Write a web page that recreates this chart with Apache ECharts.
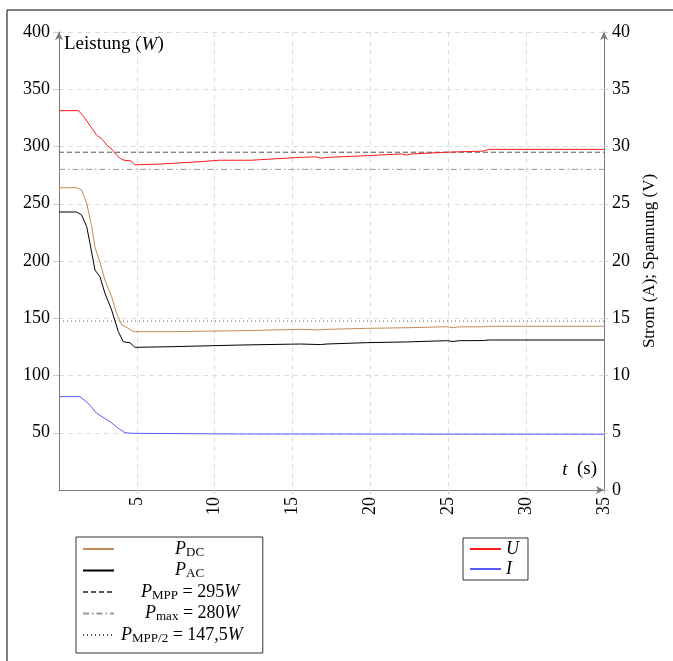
<!DOCTYPE html>
<html><head><meta charset="utf-8">
<script src="https://cdn.jsdelivr.net/npm/echarts@6/dist/echarts.min.js"></script>
<style>html,body{margin:0;padding:0;background:#fff}#c{width:673px;height:661px}</style>
</head><body><div id="c"></div>
<script>
// ---- data ----
const xTicks = [0, 5, 10, 15, 20, 25, 30, 35];
const tU = [0, 1.25, 1.6, 2.0, 2.42, 2.8, 3.06, 3.4, 3.7, 3.95, 4.17, 4.56, 4.75, 4.88, 6.5, 9.06, 10.3, 12.3, 15.5, 16.5, 16.8, 17.2, 19.8, 22.0, 22.3, 22.6, 24.9, 27.25, 27.6, 35];
const vU = [33.13, 33.13, 32.6, 31.8, 31.0, 30.6, 30.13, 29.75, 29.25, 28.95, 28.8, 28.76, 28.6, 28.4, 28.47, 28.67, 28.8, 28.8, 29.05, 29.1, 28.97, 29.05, 29.2, 29.35, 29.25, 29.35, 29.5, 29.6, 29.75, 29.75];
const tDC = [0, 1.13, 1.45, 1.78, 2.1, 2.31, 2.63, 2.95, 3.38, 3.7, 4.03, 4.35, 4.77, 7.34, 11.6, 15.5, 16.8, 17.2, 19.8, 22.3, 24.9, 25.3, 25.7, 27.25, 27.6, 35];
const pDC = [264, 264, 262, 250.4, 230, 212, 199, 183.4, 168.8, 154.3, 144.1, 142.1, 138.3, 138.3, 139.1, 140.3, 139.8, 140.3, 141.2, 141.7, 142.6, 141.8, 142.5, 142.5, 143, 143];
const tAC = [0, 1.13, 1.45, 1.78, 1.99, 2.31, 2.63, 2.95, 3.38, 3.81, 4.13, 4.56, 4.88, 7.34, 11.6, 15.5, 16.8, 17.2, 19.8, 22.3, 24.9, 25.3, 25.7, 27.25, 27.6, 35];
const pAC = [242.8, 242.8, 240.2, 230, 215.4, 192.1, 186.3, 171.8, 157.2, 138.3, 129.5, 128.6, 124.6, 125.2, 126.6, 127.5, 127.0, 127.5, 128.7, 129.3, 130.4, 129.7, 130.4, 130.5, 131, 131];
const tI = [0, 1.35, 1.88, 2.42, 3.28, 3.81, 4.24, 4.77, 11.6, 35];
const vI = [8.15, 8.15, 7.57, 6.7, 5.97, 5.39, 5.0, 4.95, 4.89, 4.87];
const tRef = [0, 35];
const pMPP = [295, 295];
const pMax = [280, 280];
const pHalf = [147.5, 147.5];

const zip = (a, b) => a.map((x, i) => [x, b[i]]);
const FONT = '"Liberation Serif", "DejaVu Serif", serif';
const richBase = {
  i: {fontFamily: FONT, fontStyle: 'italic', fontSize: 18, lineHeight: 20, color: '#000'},
  n: {fontFamily: FONT, fontSize: 18, lineHeight: 20, color: '#000'},
  s: {fontFamily: FONT, fontSize: 13, lineHeight: 13, verticalAlign: 'bottom', color: '#000'},
  p1: {width: 56, lineHeight: 20},
  p2: {width: 22, lineHeight: 20},
  p3: {width: 26, lineHeight: 20},
  p5: {width: 2, lineHeight: 20}
};
const legendFmt = {
  'PDC': '{p1|}{i|P}{s|DC}',
  'PAC': '{p1|}{i|P}{s|AC}',
  'PMPP': '{p2|}{i|P}{s|MPP}{n| = 295}{i|W}',
  'Pmax': '{p3|}{i|P}{s|max}{n| = 280}{i|W}',
  'PHALF': '{p5|}{i|P}{s|MPP/2}{n| = 147,5}{i|W}',
  'U': '{i|U}',
  'I': '{i|I}'
};

const chart = echarts.init(document.getElementById('c'), null, {renderer: 'canvas'});
const gridColor = '#dddddd';
const axisColor = '#7a7a7a';
const legendCommon = {
  orient: 'vertical',
  itemWidth: 31, itemHeight: 20,
  borderColor: '#333', borderWidth: 1, borderRadius: 0,
  formatter: n => legendFmt[n],
  textStyle: {rich: richBase, fontFamily: FONT, fontSize: 18, color: '#000'},
  itemStyle: {opacity: 0, borderWidth: 0},
  selectedMode: false
};
chart.setOption({
  animation: false,
  backgroundColor: '#fff',
  grid: {left: 59, right: 69, top: 32, bottom: 171, containLabel: false},
  xAxis: {
    type: 'value', min: 0, max: 35, interval: 5,
    axisLine: {show: true, onZero: false, lineStyle: {color: axisColor, width: 1}, symbol: ['none', 'arrow'], symbolSize: [6, 8]},
    axisTick: {show: true, length: 4, inside: false, lineStyle: {color: '#cccccc'}},
    axisLabel: {rotate: 90, margin: 7, fontFamily: FONT, fontSize: 18, color: '#000', showMinLabel: false,
      formatter: v => (v === 0 ? '' : String(v))},
    splitLine: {show: true, lineStyle: {color: gridColor, type: [5, 4]}}
  },
  yAxis: [
    {
      type: 'value', min: 0, max: 400, interval: 50, position: 'left',
      axisLine: {show: true, onZero: false, lineStyle: {color: axisColor, width: 1}, symbol: ['none', 'arrow'], symbolSize: [6, 8]},
      axisTick: {show: true, length: 6, lineStyle: {color: '#cccccc'}},
      axisLabel: {margin: 9, fontFamily: FONT, fontSize: 18, color: '#000', showMinLabel: false,
        formatter: v => (v === 0 ? '' : String(v))},
      splitLine: {show: true, lineStyle: {color: gridColor, type: [5, 4]}}
    },
    {
      type: 'value', min: 0, max: 40, interval: 5, position: 'right',
      name: 'Strom (A); Spannung (V)', nameLocation: 'middle', nameRotate: 90, nameGap: 14,
      nameTextStyle: {fontFamily: FONT, fontSize: 17, color: '#000'},
      axisLine: {show: true, onZero: false, lineStyle: {color: axisColor, width: 1}, symbol: ['none', 'arrow'], symbolSize: [6, 8]},
      axisTick: {show: true, length: 4, lineStyle: {color: '#cccccc'}},
      axisLabel: {margin: 8, fontFamily: FONT, fontSize: 18, color: '#000'},
      splitLine: {show: false}
    }
  ],
  legend: [
    Object.assign({}, legendCommon, {
      left: 76, top: 537,
      data: ['PDC', 'PAC', 'PMPP', 'Pmax', 'PHALF'],
      itemGap: 2.5,
      padding: [3, 20, 8, 6]
    }),
    Object.assign({}, legendCommon, {
      left: 463, top: 538,
      data: ['U', 'I'],
      itemGap: 2,
      padding: [2, 9, 2, 6]
    })
  ],
  graphic: [
    {type: 'line', shape: {x1: 7, y1: 10, x2: 673, y2: 10}, style: {stroke: '#555', lineWidth: 1.5}, silent: true},
    {type: 'line', shape: {x1: 7, y1: 10, x2: 7, y2: 661}, style: {stroke: '#555', lineWidth: 1.5}, silent: true},
    {type: 'text', x: 64, y: 35, style: {
      text: '{n|Leistung (}{i|W}{n|)}',
      rich: {n: {fontFamily: FONT, fontSize: 19, color: '#000'}, i: {fontFamily: FONT, fontSize: 19, fontStyle: 'italic', color: '#000'}}
    }},
    {type: 'text', x: 597, y: 460, style: {
      text: '{i|t}{n|  (s)}', align: 'right',
      rich: {n: {fontFamily: FONT, fontSize: 19, color: '#000'}, i: {fontFamily: FONT, fontSize: 19, fontStyle: 'italic', color: '#000'}}
    }}
  ],
  series: [
    {name: 'PDC', type: 'line', yAxisIndex: 0, data: zip(tDC, pDC), symbol: 'none', lineStyle: {color: '#c28a55', width: 1}, itemStyle: {color: '#c28a55'}, z: 3},
    {name: 'PAC', type: 'line', yAxisIndex: 0, data: zip(tAC, pAC), symbol: 'none', lineStyle: {color: '#000', width: 1}, itemStyle: {color: '#000'}, z: 3},
    {name: 'PMPP', type: 'line', yAxisIndex: 0, data: zip(tRef, pMPP), symbol: 'none', lineStyle: {color: '#555', width: 1, type: [5, 3]}, itemStyle: {color: '#555'}, z: 2},
    {name: 'Pmax', type: 'line', yAxisIndex: 0, data: zip(tRef, pMax), symbol: 'none', lineStyle: {color: '#999', width: 1, type: [6, 3, 1.5, 3]}, itemStyle: {color: '#999'}, z: 2},
    {name: 'PHALF', type: 'line', yAxisIndex: 0, data: zip(tRef, pHalf), symbol: 'none', lineStyle: {color: '#555', width: 1, type: [1, 3]}, itemStyle: {color: '#555'}, z: 2},
    {name: 'U', type: 'line', yAxisIndex: 1, data: zip(tU, vU), symbol: 'none', lineStyle: {color: '#ff1a1a', width: 1}, itemStyle: {color: '#ff1a1a'}, z: 3},
    {name: 'I', type: 'line', yAxisIndex: 1, data: zip(tI, vI), symbol: 'none', lineStyle: {color: '#5a5aff', width: 1}, itemStyle: {color: '#5a5aff'}, z: 3}
  ]
});
</script>
</body></html>
